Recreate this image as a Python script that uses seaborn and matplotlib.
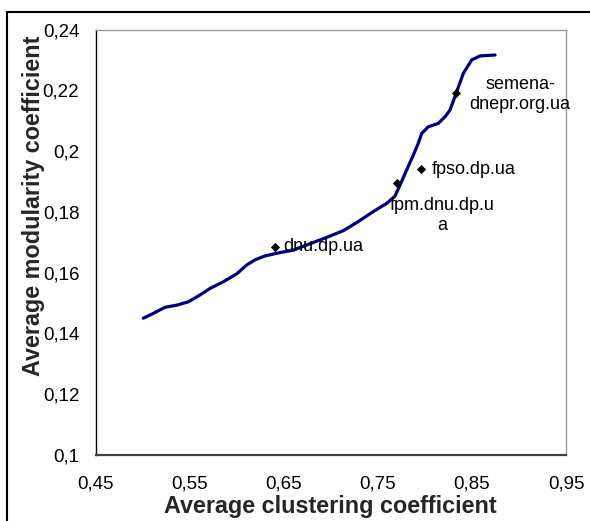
import matplotlib
matplotlib.use("Agg")
import matplotlib.pyplot as plt
import seaborn as sns
import pandas as pd
from matplotlib.patches import Rectangle

# ---- data ----
curve_x = [0.5003, 0.5110, 0.5234, 0.5359, 0.5482, 0.5588, 0.5713, 0.5854, 0.5997, 0.6103,
           0.6191, 0.6298, 0.6457, 0.6599, 0.6741, 0.6954, 0.7131, 0.7290, 0.7450, 0.7593,
           0.7681, 0.7734, 0.7805, 0.7876, 0.7929, 0.7965, 0.8035, 0.8141, 0.8213, 0.8266,
           0.8337, 0.8408, 0.8497, 0.8585, 0.8745]
curve_y = [0.1450, 0.1466, 0.1486, 0.1493, 0.1504, 0.1523, 0.1548, 0.1570, 0.1596, 0.1625,
           0.1642, 0.1655, 0.1666, 0.1674, 0.1691, 0.1716, 0.1738, 0.1768, 0.1801, 0.1828,
           0.1852, 0.1888, 0.1938, 0.1987, 0.2026, 0.2058, 0.2080, 0.2091, 0.2113, 0.2135,
           0.2195, 0.2256, 0.2300, 0.2313, 0.2316]

site_x = [0.640, 0.770, 0.796, 0.833]
site_y = [0.1685, 0.1894, 0.1940, 0.2192]
site_labels = ["dnu.dp.ua", "fpm.dnu.dp.u\na", "fpso.dp.ua", "semena-\ndnepr.org.ua"]

x_ticks = [0.45, 0.55, 0.65, 0.75, 0.85, 0.95]
x_tick_labels = ["0,45", "0,55", "0,65", "0,75", "0,85", "0,95"]
y_ticks = [0.10, 0.12, 0.14, 0.16, 0.18, 0.20, 0.22, 0.24]
y_tick_labels = ["0,1", "0,12", "0,14", "0,16", "0,18", "0,2", "0,22", "0,24"]

x_label = "Average clustering coefficient"
y_label = "Average modularity coefficient"

# ---- style ----
sns.set_style("white")
plt.rcParams["font.family"] = ["Liberation Sans", "DejaVu Sans"]

W, H = 590, 521
fig = plt.figure(figsize=(W / 100, H / 100), dpi=100)
ax = fig.add_axes([96 / W, 1 - 455 / H, 470 / W, 425.5 / H])

curve_df = pd.DataFrame({"x": curve_x, "y": curve_y})
sns.lineplot(data=curve_df, x="x", y="y", sort=False, color="#000080",
             linewidth=2.3, ax=ax, zorder=2)
ax.lines[-1].set_solid_joinstyle("round")
ax.lines[-1].set_solid_capstyle("round")

site_df = pd.DataFrame({"x": site_x, "y": site_y, "label": site_labels})
sns.scatterplot(data=site_df, x="x", y="y", marker="D", color="black",
                s=22, edgecolor="black", linewidth=0, ax=ax, zorder=3)

px = 72 / 100
offsets = [(9, 0, "left"), (45, -32, "center"), (11, 0, "left"), (64, -2, "center")]
for (x, y, lab), (dx, dy, ha) in zip(zip(site_x, site_y, site_labels), offsets):
    ax.annotate(lab, (x, y), xytext=(dx * px, dy * px), textcoords="offset points",
                ha=ha, va="center", multialignment="center", fontsize=13,
                linespacing=1.25, color="black", annotation_clip=False, zorder=4)

ax.set_xlim(0.45, 0.95)
ax.set_ylim(0.10, 0.24)
ax.set_xticks(x_ticks)
ax.set_xticklabels(x_tick_labels)
ax.set_yticks(y_ticks)
ax.set_yticklabels(y_tick_labels)
ax.tick_params(axis="both", direction="out", width=1, color="#202020",
               labelsize=13.5, labelcolor="black")
ax.tick_params(axis="x", pad=9, length=6)
ax.tick_params(axis="y", pad=7, length=5)

ax.set_xlabel(x_label, fontsize=16.8, fontweight="bold")
ax.set_ylabel(y_label, fontsize=16.8, fontweight="bold")
ax.xaxis.label.set_va("center")
ax.yaxis.label.set_va("center")
ax.xaxis.set_label_coords(0.499, -0.122)
ax.yaxis.set_label_coords(-0.132, 0.585)

for side in ["top", "right"]:
    ax.spines[side].set_visible(True)
    ax.spines[side].set_color("#999999")
    ax.spines[side].set_linewidth(1.0)
ax.spines["left"].set_color("black")
ax.spines["left"].set_linewidth(1.0)
ax.spines["bottom"].set_color("#404040")
ax.spines["bottom"].set_linewidth(1.6)
ax.grid(False)

# outer frame (extends beyond right/bottom edges as in reference)
fig.patches.append(Rectangle((7 / W, -0.05), 1.2, (H - 12) / H + 0.05,
                             transform=fig.transFigure, fill=False,
                             edgecolor="black", linewidth=1.5))

fig.savefig("out.png", dpi=100)
